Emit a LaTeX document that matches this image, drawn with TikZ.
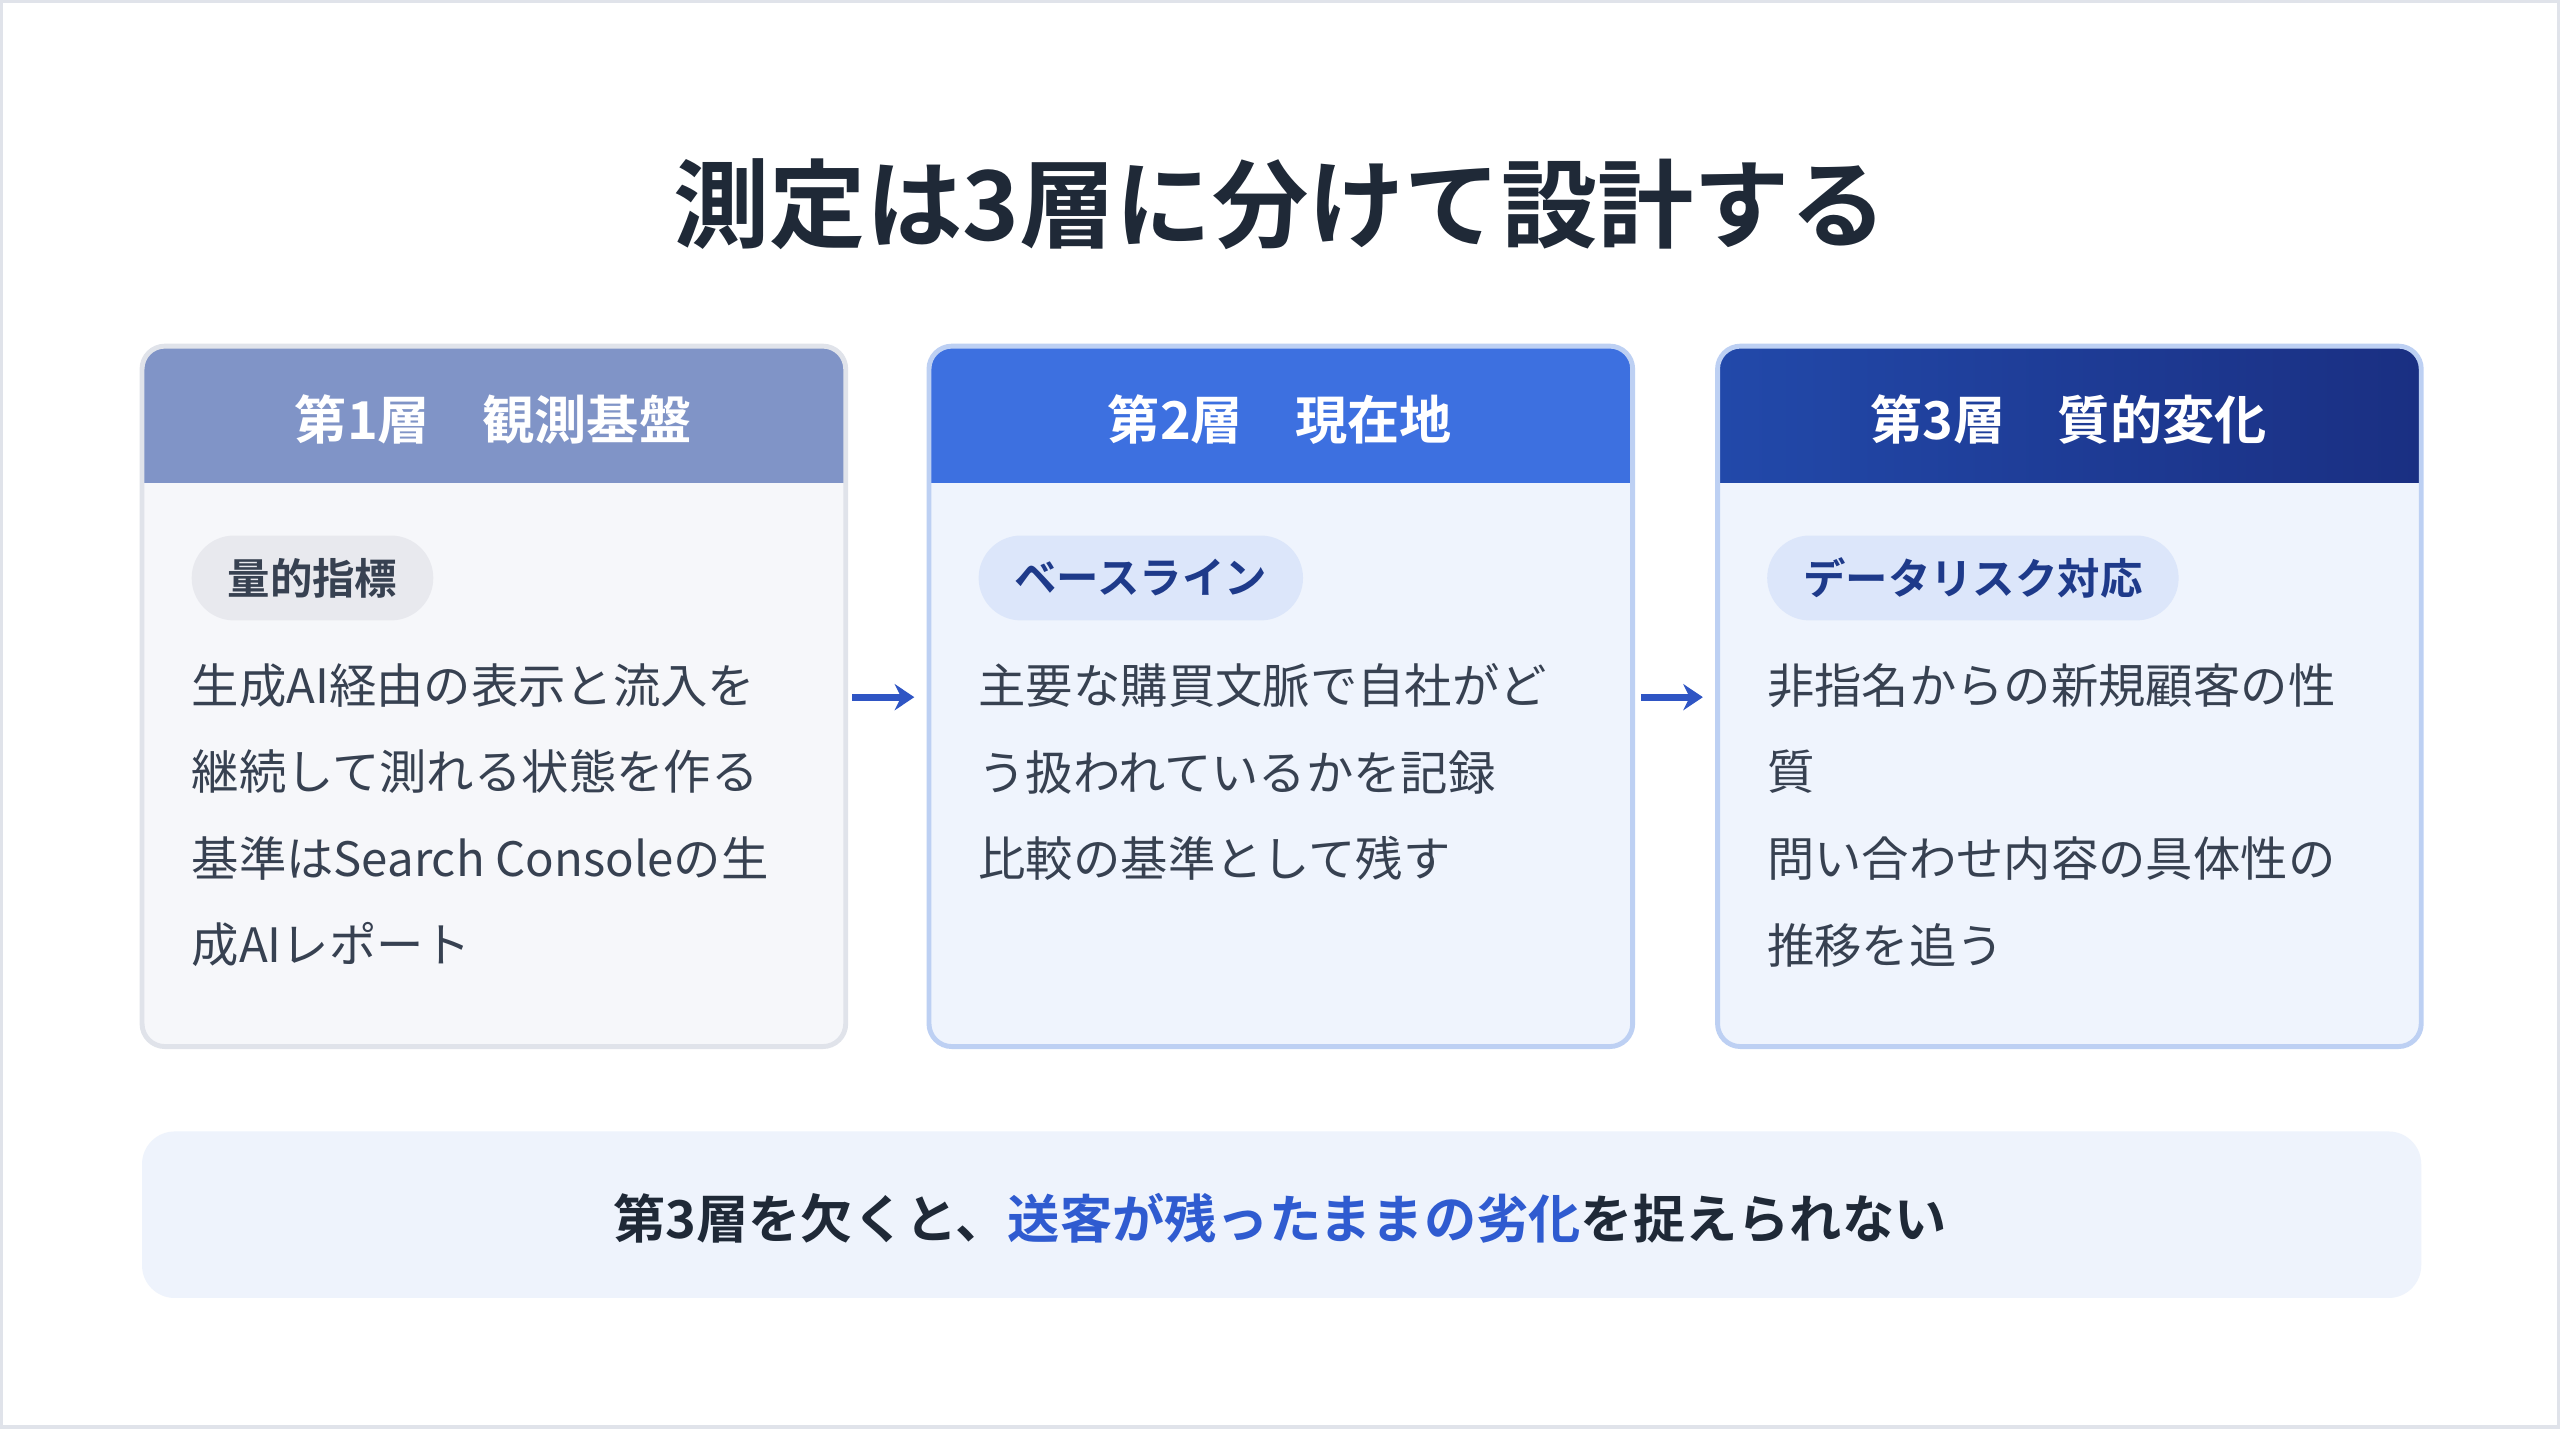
\documentclass[tikz,border=0pt]{standalone}
\usepackage{fontspec}
\setmainfont{Noto Sans CJK JP}[BoldFont={Noto Sans CJK JP Bold}]
\usepackage{xcolor}
\usetikzlibrary{positioning, arrows.meta}
\definecolor{inkDark}{HTML}{1F2937}
\definecolor{inkBody}{HTML}{374151}
\definecolor{hdrOne}{HTML}{8094C7}
\definecolor{hdrTwo}{HTML}{3D70E0}
\definecolor{hdrThreeL}{HTML}{2249AA}
\definecolor{hdrThreeR}{HTML}{1A2F82}
\definecolor{bodyOne}{HTML}{F6F7FA}
\definecolor{edgeOne}{HTML}{E0E3EA}
\definecolor{bodyBlue}{HTML}{EFF4FD}
\definecolor{edgeBlue}{HTML}{BDD0F3}
\definecolor{pillGray}{HTML}{E8E9EE}
\definecolor{pillBlue}{HTML}{DCE6FA}
\definecolor{pillInk}{HTML}{1E3A8A}
\definecolor{arrowBlue}{HTML}{2F55C4}
\definecolor{accent}{HTML}{2F5BD0}
\definecolor{noteFill}{HTML}{EEF3FC}

\tikzset{
  hdrtext/.style={text=white, font=\bfseries\fontsize{16}{19}\selectfont},
  pill/.style={rounded corners=13pt, minimum height=26pt, inner xsep=11pt,
    font=\bfseries\fontsize{13}{15}\selectfont, anchor=west},
  bodytext/.style={anchor=north west, align=left, inner sep=0pt, text=inkBody,
    font=\fontsize{14.5}{26.5}\selectfont},
  flow/.style={-{Stealth[length=6pt,width=8pt]}, line width=2.2pt, draw=arrowBlue},
}

\begin{document}
\begin{tikzpicture}[x=0.5pt, y=-0.5pt]
  \useasboundingbox (0,0) rectangle (1568,875);
  \fill[white] (0,0) rectangle (1568,875);
  \draw[edgeOne, line width=1pt] (1,1) rectangle (1567,874);

  % Title
  \node[text=inkDark, font=\bfseries\fontsize{29.5}{34}\selectfont] (title) at (784,125) {測定は3層に分けて設計する};

  % Cards
  \foreach \x/\hdr/\body/\edge in {87/hdrOne/bodyOne/edgeOne, 569/hdrTwo/bodyBlue/edgeBlue, 1052/hdrTwo/bodyBlue/edgeBlue} {
    \pgfmathtruncatemacro{\xr}{\x + 431}
    \fill[\body, rounded corners=7pt] (\x,212) rectangle (\xr,641);
    \ifnum\x=1052
      \shade[left color=hdrThreeL, right color=hdrThreeR, rounded corners=7pt] (\x,212) rectangle (\xr,320);
    \else
      \fill[\hdr, rounded corners=7pt] (\x,212) rectangle (\xr,320);
    \fi
    \fill[\body] (\x,296) rectangle (\xr,330);
    \draw[\edge, line width=1.5pt, rounded corners=7pt] (\x,212) rectangle (\xr,641);
  }

  % Headers
  \node[hdrtext] (hdrA) at (302,257) {第1層　観測基盤};
  \node[hdrtext] (hdrB) at (784,257) {第2層　現在地};
  \node[hdrtext] (hdrC) at (1267,257) {第3層　質的変化};

  % Pills
  \node[pill, fill=pillGray, text=inkBody] (pillA) at (117,354) {量的指標};
  \node[pill, fill=pillBlue, text=pillInk] (pillB) at (599,354) {ベースライン};
  \node[pill, fill=pillBlue, text=pillInk] (pillC) at (1082,354) {データリスク対応};

  % Body texts
  \node[bodytext] (textA) at (117,406) {生成AI経由の表示と流入を\\継続して測れる状態を作る\\基準はSearch Consoleの生\\成AIレポート};
  \node[bodytext] (textB) at (599,406) {主要な購買文脈で自社がど\\う扱われているかを記録\\比較の基準として残す};
  \node[bodytext] (textC) at (1082,406) {非指名からの新規顧客の性\\質\\問い合わせ内容の具体性の\\推移を追う};

  % Arrows between cards
  \coordinate (arrA) at (522,427);
  \coordinate (arrB) at (560,427);
  \coordinate (arrC) at (1005,427);
  \coordinate (arrD) at (1043,427);
  \draw[flow] (arrA) -- (arrB);
  \draw[flow] (arrC) -- (arrD);

  % Bottom note
  \fill[noteFill, rounded corners=10pt] (87,693) rectangle (1483,795);
  \node[text=inkDark, font=\bfseries\fontsize{16}{19}\selectfont] (note) at (784,746)
    {第3層を欠くと、\textcolor{accent}{送客が残ったままの劣化}を捉えられない};
\end{tikzpicture}
\end{document}
